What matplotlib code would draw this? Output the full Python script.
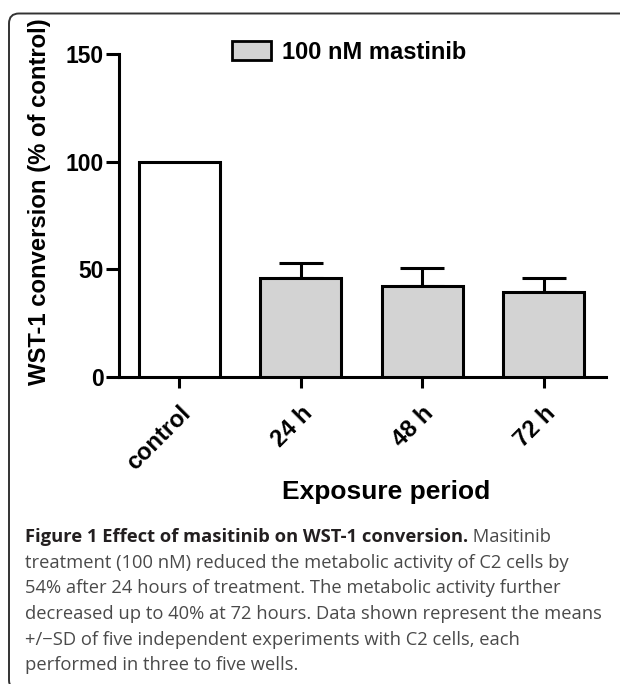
import matplotlib
matplotlib.use("Agg")
import matplotlib.pyplot as plt
import matplotlib.transforms as mtransforms
from matplotlib.patches import FancyBboxPatch, Patch
import numpy as np

# ---- data ----
categories = ["control", "24 h", "48 h", "72 h"]
values = [100.0, 46.2, 42.3, 39.6]
sd_upper = [0.0, 6.8, 8.2, 6.2]
has_err = [False, True, True, True]
bar_colors = ["white", "#d3d3d3", "#d3d3d3", "#d3d3d3"]
yticks = [0, 50, 100, 150]
legend_label = "100 nM mastinib"
ylabel = "WST-1 conversion (% of control)"
xlabel = "Exposure period"
caption_bold = "Figure 1 Effect of masitinib on WST-1 conversion."
caption_first_rest = " Masitinib"
caption_lines = [
    "treatment (100 nM) reduced the metabolic activity of C2 cells by",
    "54% after 24 hours of treatment. The metabolic activity further",
    "decreased up to 40% at 72 hours. Data shown represent the means",
    "+/\u2212SD of five independent experiments with C2 cells, each",
    "performed in three to five wells.",
]

W, H = 620, 684
fig = plt.figure(figsize=(W / 100, H / 100), dpi=100)
fig.patch.set_facecolor("white")

plt.rcParams["font.family"] = ["Liberation Sans", "DejaVu Sans"]

ax = fig.add_axes([119 / W, 1 - 377 / H, (606 - 119) / W, (377 - 54) / H])
x = np.arange(len(categories))
lw = 2.2
bars = ax.bar(x, values, width=0.667, color=bar_colors, edgecolor="black",
              linewidth=lw, zorder=3)
xe = [xi for xi, h in zip(x, has_err) if h]
ye = [v for v, h in zip(values, has_err) if h]
ee = [e for e, h in zip(sd_upper, has_err) if h]
ax.errorbar(xe, ye, yerr=[np.zeros(len(ee)), ee], fmt="none", ecolor="black",
            elinewidth=lw, capsize=15.5, capthick=lw, zorder=2)

ax.set_xlim(-0.494, 3.514)
ax.set_ylim(0, 150)
ax.set_yticks(yticks)
ax.set_yticklabels([str(t) for t in yticks], fontsize=16.5, fontweight="bold")
ax.set_xticks(x)
ax.set_xticklabels(categories, fontsize=17, fontweight="bold", rotation=45,
                   ha="right", va="top", rotation_mode="anchor")
offset = mtransforms.ScaledTranslation(1 / 100, 0, fig.dpi_scale_trans)
for lab in ax.get_xticklabels():
    lab.set_transform(lab.get_transform() + offset)

for s in ["top", "right"]:
    ax.spines[s].set_visible(False)
for s in ["left", "bottom"]:
    ax.spines[s].set_linewidth(lw)
ax.tick_params(axis="y", length=9.5, width=lw, pad=1.5)
ax.tick_params(axis="x", length=8, width=lw, pad=10)
ax.set_facecolor("white")

leg = ax.legend([Patch(facecolor="#d3d3d3", edgecolor="black", linewidth=2)],
                [legend_label], loc="upper left",
                bbox_to_anchor=(232 / W, 1 - 41 / H),
                bbox_transform=fig.transFigure, frameon=False, borderpad=0,
                borderaxespad=0, handlelength=1.65, handleheight=0.87,
                handletextpad=0.45,
                prop={"family": "Liberation Sans", "weight": "bold", "size": 17})

fig.text(40 / W, 1 - 202 / H, ylabel, rotation=90, ha="center", va="center",
         fontsize=17.2, fontweight="bold")
fig.text(386.5 / W, 1 - 499 / H, xlabel, ha="center", va="baseline",
         fontsize=19, fontweight="bold")

# caption
cap_font = ["Open Sans", "DejaVu Sans"]
cap_size = 13.2
x0 = 25 / W
base0 = 542
step = 25.7
fig.canvas.draw()
r = fig.canvas.get_renderer()
tb = fig.text(x0, 1 - base0 / H, caption_bold, family=cap_font, fontsize=cap_size,
              fontweight="bold", color="#231f20", va="baseline")
bb = tb.get_window_extent(renderer=r)
fig.text(bb.x1 / W, 1 - base0 / H, caption_first_rest, family=cap_font,
         fontsize=cap_size, color="#4a4a4a", va="baseline")
for i, line in enumerate(caption_lines):
    fig.text(x0, 1 - (base0 + step * (i + 1)) / H, line, family=cap_font,
             fontsize=cap_size, color="#4a4a4a", va="baseline")

box = FancyBboxPatch((9, -6), 660, 676.5, boxstyle="round,pad=0,rounding_size=10",
                     transform=mtransforms.IdentityTransform(), facecolor="none",
                     edgecolor="#333333", linewidth=1.4)
fig.add_artist(box)

fig.savefig("out.png", dpi=100)
